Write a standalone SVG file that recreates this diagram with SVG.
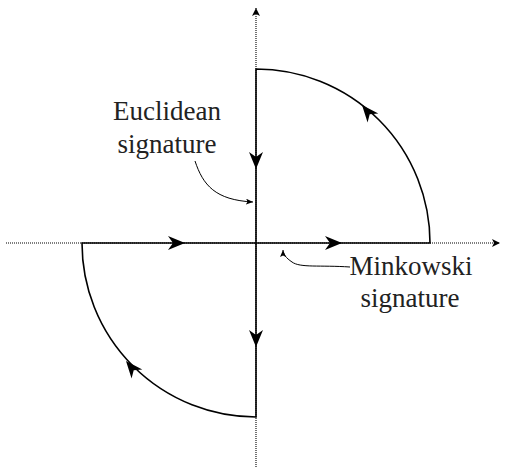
<svg xmlns="http://www.w3.org/2000/svg" width="505" height="470" viewBox="0 0 505 470">
<style>
.axis{stroke:#000;stroke-width:1.1;stroke-dasharray:1 1;fill:none}
.contour{stroke:#000;stroke-width:1.6;fill:none}
.note{stroke:#000;stroke-width:1;fill:none}
.lbl{font-size:27px;fill:#222;text-anchor:middle}
</style>
<defs>
<path id="stealth" d="M0 0 L-17 -7 L-12 0 L-17 7 Z" fill="#000"/>
<marker id="axhead" markerWidth="10" markerHeight="10" refX="8" refY="4" orient="auto" markerUnits="userSpaceOnUse">
<path d="M8 4 L0 0 L2 4 L0 8 Z" fill="#000"/>
</marker>
<marker id="small" markerWidth="10" markerHeight="8" refX="7" refY="3" orient="auto" markerUnits="userSpaceOnUse">
<path d="M7 3 L0 0 L1.5 3 L0 6 Z" fill="#000"/>
</marker>
</defs>
<g id="axes">
<line class="axis" x1="256" y1="467" x2="256" y2="8" marker-end="url(#axhead)"/>
<line class="axis" x1="6" y1="243" x2="500" y2="243" marker-end="url(#axhead)"/>
</g>
<g id="connectors">
<path id="contour-upper" class="contour" d="M256 243 L430 243 A174 174 0 0 0 256 69 L256 243"/>
<path id="contour-lower" class="contour" d="M256 243 L82 243 A174 174 0 0 0 256 417 L256 243"/>
<use href="#stealth" transform="translate(185 243)"/>
<use href="#stealth" transform="translate(342 243)"/>
<use href="#stealth" transform="translate(256 169) rotate(90)"/>
<use href="#stealth" transform="translate(256 347) rotate(90)"/>
<use href="#stealth" transform="translate(362 105) rotate(-130)"/>
<use href="#stealth" transform="translate(126 361) rotate(-130)"/>
<path class="note" d="M195 161 C203 185 215 200 253 202" marker-end="url(#small)"/>
<path class="note" d="M350 267 C320 265 300 268 292 262 C286 258 283 254 283 250" marker-end="url(#small)"/>
</g>
<g id="label-euclidean" font-family="'Liberation Serif', 'Times New Roman', serif">
<text class="lbl" x="167" y="120">Euclidean</text>
<text class="lbl" x="167" y="153">signature</text>
</g>
<g id="label-minkowski" font-family="'Liberation Serif', 'Times New Roman', serif">
<text class="lbl" x="411" y="275">Minkowski</text>
<text class="lbl" x="410" y="307">signature</text>
</g>
</svg>
